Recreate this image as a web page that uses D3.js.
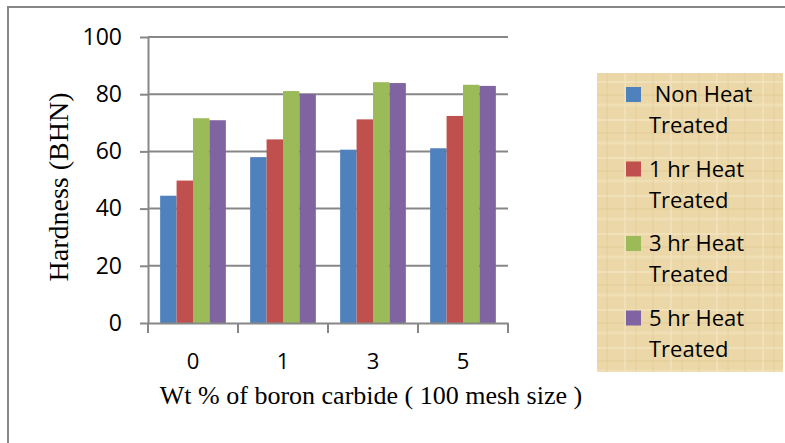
<!DOCTYPE html>
<html>
<head>
<meta charset="utf-8">
<script src="https://cdn.jsdelivr.net/npm/d3@7"></script>
<style>
  body { margin: 0; background: #fff; }
  svg { display: block; }
</style>
</head>
<body>
<svg id="chart" width="785" height="443"></svg>
<script>
const categories = ["0", "1", "3", "5"];
const seriesNames = [" Non Heat Treated", "1 hr Heat Treated", "3 hr Heat Treated", "5 hr Heat Treated"];
const nonHeat = [44.5, 58.0, 60.6, 61.1];
const oneHr = [49.8, 64.2, 71.2, 72.4];
const threeHr = [71.6, 81.1, 84.2, 83.3];
const fiveHr = [70.9, 80.1, 83.9, 82.9];
const yTicks = [0, 20, 40, 60, 80, 100];
const colors = ["#4F81BD", "#C0504D", "#9BBB59", "#8064A2"];

const PLOT = { left: 148, right: 508, top: 37, bottom: 323 };
const LABEL_FONT = "Open Sans";

const svg = d3.select("#chart");
const series = [nonHeat, oneHr, threeHr, fiveHr];

// outer frame (only left and top edges are visible)
svg.append("rect")
  .attr("x", 8).attr("y", 7)
  .attr("width", 820).attr("height", 480)
  .attr("fill", "none")
  .attr("stroke", "#878787")
  .attr("stroke-width", 2);

const y = d3.scaleLinear().domain([0, 100]).range([PLOT.bottom, PLOT.top]);
const x = d3.scaleBand().domain(categories).range([PLOT.left, PLOT.right]);
const x1 = d3.scaleBand()
  .domain(d3.range(series.length))
  .range([x.bandwidth() * 0.135, x.bandwidth() * 0.865]);

// gridlines
svg.append("g")
  .selectAll("line")
  .data(yTicks.slice(1))
  .join("line")
  .attr("x1", PLOT.left).attr("x2", PLOT.right)
  .attr("y1", d => y(d)).attr("y2", d => y(d))
  .attr("stroke", "#878787")
  .attr("stroke-width", 2);

// bars
const groups = svg.append("g")
  .selectAll("g")
  .data(categories)
  .join("g")
  .attr("transform", c => `translate(${x(c)},0)`);

groups.selectAll("rect")
  .data((c, i) => series.map((s, k) => ({ k, v: s[i] })))
  .join("rect")
  .attr("x", d => x1(d.k))
  .attr("width", x1.bandwidth())
  .attr("y", d => y(d.v))
  .attr("height", d => y(0) - y(d.v))
  .attr("fill", d => colors[d.k]);

// y axis
const yAxis = d3.axisLeft(y)
  .tickValues(yTicks)
  .tickSizeInner(8)
  .tickSizeOuter(0)
  .tickPadding(18);

const yg = svg.append("g")
  .attr("transform", `translate(${PLOT.left},0)`)
  .call(yAxis);
yg.selectAll("line, path").attr("stroke", "#878787").attr("stroke-width", 2);
yg.selectAll("text")
  .attr("font-family", LABEL_FONT)
  .attr("font-size", 23)
  .attr("fill", "#000");

// x axis
const xAxis = d3.axisBottom(x).tickSize(0).tickPadding(30);
const xg = svg.append("g")
  .attr("transform", `translate(0,${PLOT.bottom})`)
  .call(xAxis);
xg.select("path").attr("stroke", "#878787").attr("stroke-width", 2);
xg.selectAll("text")
  .attr("font-family", LABEL_FONT)
  .attr("font-size", 22)
  .attr("fill", "#000");

xg.append("g")
  .selectAll("line")
  .data(x.domain().map(x).concat(x.range()[1]))
  .join("line")
  .attr("x1", d => d).attr("x2", d => d)
  .attr("y1", 0).attr("y2", 10)
  .attr("stroke", "#878787")
  .attr("stroke-width", 2);

// axis titles
svg.append("text")
  .attr("x", 371)
  .attr("y", 404)
  .attr("text-anchor", "middle")
  .attr("font-family", "Liberation Serif")
  .attr("font-size", 26)
  .text("Wt % of boron carbide ( 100 mesh size )");

svg.append("text")
  .attr("transform", "translate(68,187) rotate(-90)")
  .attr("text-anchor", "middle")
  .attr("font-family", "Liberation Serif")
  .attr("font-size", 28)
  .text("Hardness (BHN)");

// legend with a papyrus-like texture
const defs = svg.append("defs");
const pat = defs.append("pattern")
  .attr("id", "papyrus")
  .attr("patternUnits", "userSpaceOnUse")
  .attr("width", 46).attr("height", 38);
pat.append("rect").attr("width", 46).attr("height", 38).attr("fill", "#EBD7A7");
const streaks = [
  [0, 6, 46, 6, "#F4E6C2", 2], [0, 19, 46, 19, "#DDC58F", 1],
  [0, 29, 46, 29, "#F2E2BA", 3], [9, 0, 9, 38, "#DFC993", 1],
  [27, 0, 27, 38, "#F3E4BF", 2], [38, 0, 38, 38, "#E0CA96", 1]
];
pat.selectAll("line")
  .data(streaks)
  .join("line")
  .attr("x1", d => d[0]).attr("y1", d => d[1])
  .attr("x2", d => d[2]).attr("y2", d => d[3])
  .attr("stroke", d => d[4])
  .attr("stroke-width", d => d[5])
  .attr("opacity", 0.7);

const legend = svg.append("g");
legend.append("rect")
  .attr("x", 597).attr("y", 73)
  .attr("width", 186).attr("height", 299)
  .attr("fill", "url(#papyrus)");

const items = legend.selectAll("g.item")
  .data(seriesNames)
  .join("g")
  .attr("class", "item")
  .attr("transform", (d, i) => `translate(0,${102 + i * 74.5})`);

items.append("rect")
  .attr("x", 626).attr("y", -15)
  .attr("width", 15).attr("height", 15)
  .attr("fill", (d, i) => colors[i]);

items.append("text")
  .attr("x", 649)
  .attr("font-family", LABEL_FONT)
  .attr("font-size", 22)
  .attr("fill", "#000")
  .style("white-space", "pre")
  .selectAll("tspan")
  .data(d => [d.replace(" Treated", ""), "Treated"])
  .join("tspan")
  .attr("x", 649)
  .attr("dy", (d, i) => i === 0 ? 0 : 31)
  .text(d => d);
</script>
</body>
</html>
